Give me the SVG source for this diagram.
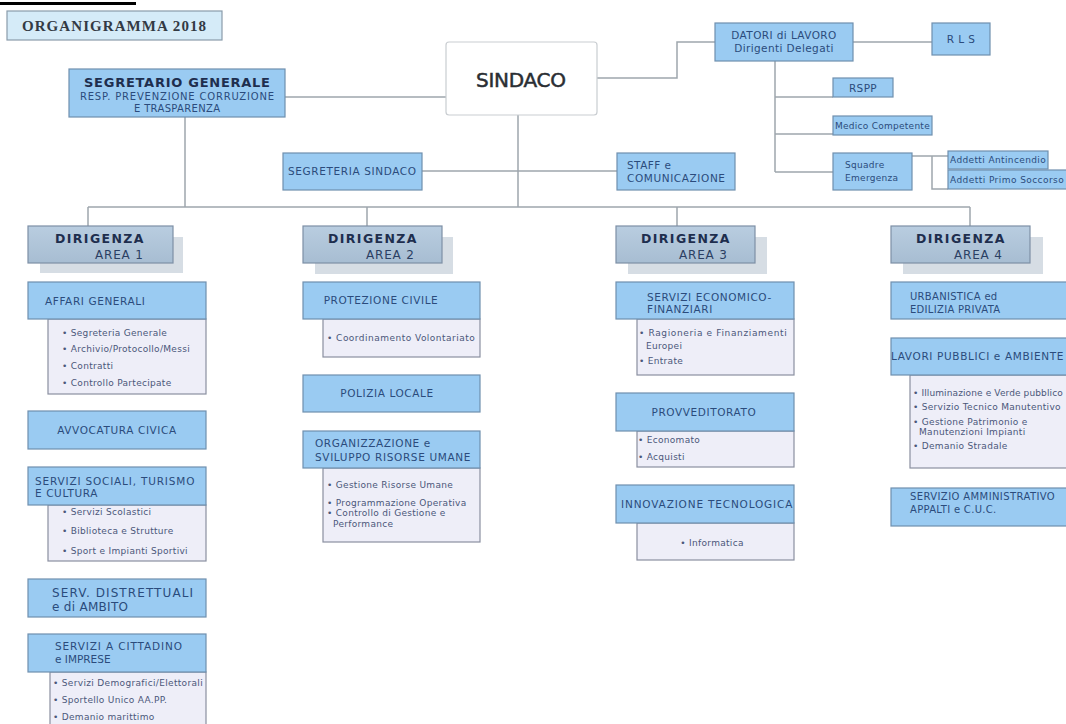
<svg xmlns="http://www.w3.org/2000/svg" width="1066" height="724" viewBox="0 0 1066 724">
<defs>
<linearGradient id="gDir" x1="0" y1="0" x2="0" y2="1">
<stop offset="0" stop-color="#b9cde0"/>
<stop offset="1" stop-color="#a7bdd2"/>
</linearGradient>
</defs>
<style>
.hdr{fill:#9acbf2;stroke:#6f8fae;stroke-width:1.2}
.sub{fill:#eeeef8;stroke:#8a8fa0;stroke-width:1.2}
.dir{fill:url(#gDir);stroke:#7d8fa6;stroke-width:1.2}
.shd{fill:#d6dde4}
.ht{font-family:"DejaVu Sans",sans-serif;font-size:10.5px;letter-spacing:0.6px;fill:#2b4b7c}
.htc{font-family:"DejaVu Sans",sans-serif;font-size:10.5px;letter-spacing:0.6px;fill:#2b4b7c;text-anchor:middle}
.h4{font-family:"DejaVu Sans",sans-serif;font-size:10px;letter-spacing:0.3px;fill:#2b4b7c}
.it{font-family:"DejaVu Sans",sans-serif;font-size:9px;letter-spacing:0.3px;fill:#4b577a}
.st{font-family:"DejaVu Sans",sans-serif;font-size:9px;letter-spacing:0.3px;fill:#2b4b7c}
.stc{font-family:"DejaVu Sans",sans-serif;font-size:10.5px;letter-spacing:0.4px;fill:#2b4b7c;text-anchor:middle}
.d1{font-family:"DejaVu Sans",sans-serif;font-size:12.5px;font-weight:bold;letter-spacing:1.4px;fill:#1e2e4e}
.d2{font-family:"DejaVu Sans",sans-serif;font-size:12px;letter-spacing:0.8px;fill:#2b3f63}
.conn{stroke:#9ea6ad;stroke-width:1.5;fill:none}
</style>
<rect width="1066" height="724" fill="#ffffff"/>
<rect x="0" y="2" width="136" height="3" fill="#000000"/>

<g id="connectors">
<path class="conn" d="M285,97 H446"/>
<path class="conn" d="M185,117 V207"/>
<path class="conn" d="M597,78 H677 V42 H715"/>
<path class="conn" d="M853,42 H932"/>
<path class="conn" d="M775,61 V172"/>
<path class="conn" d="M775,97 H833"/>
<path class="conn" d="M775,134 H833"/>
<path class="conn" d="M775,172 H833"/>
<path class="conn" d="M912,156 H948"/>
<path class="conn" d="M932,156 V189 H948"/>
<path class="conn" d="M518,115 V207"/>
<path class="conn" d="M422,171 H617"/>
<path class="conn" d="M88,207 H970"/>
<path class="conn" d="M88,207 V226"/>
<path class="conn" d="M367,207 V226"/>
<path class="conn" d="M677,207 V226"/>
<path class="conn" d="M970,207 V226"/>
</g>

<g id="title">
<rect x="7" y="11" width="215" height="29" fill="#d5ebf8" stroke="#8a9cab" stroke-width="1.2"/>
<text x="114" y="31" text-anchor="middle" font-family="Liberation Serif,serif" font-size="15" font-weight="bold" fill="#333a44" textLength="184">ORGANIGRAMMA 2018</text>
</g>

<g id="segretario">
<rect class="hdr" x="69" y="69" width="216" height="48"/>
<text x="177" y="87" text-anchor="middle" font-family="DejaVu Sans,sans-serif" font-size="13" font-weight="bold" fill="#1e2e4e" textLength="186">SEGRETARIO GENERALE</text>
<text x="177" y="100" text-anchor="middle" font-family="DejaVu Sans,sans-serif" font-size="10" fill="#2b4b7c" textLength="194">RESP. PREVENZIONE CORRUZIONE</text>
<text x="177" y="112" text-anchor="middle" font-family="DejaVu Sans,sans-serif" font-size="10" fill="#2b4b7c" textLength="86">E TRASPARENZA</text>
</g>

<g id="sindaco">
<rect x="446" y="42" width="151" height="73" rx="3" fill="#ffffff" stroke="#c9cdd1" stroke-width="1.2"/>
<text x="521" y="87" text-anchor="middle" font-family="DejaVu Sans,sans-serif" font-size="20" fill="#2a2e33" stroke="#2a2e33" stroke-width="0.5" textLength="90">SINDACO</text>
</g>

<g id="datori">
<rect class="hdr" x="715" y="23" width="138" height="38"/>
<text x="784" y="39" class="stc">DATORI di LAVORO</text>
<text x="784" y="52" class="stc">Dirigenti Delegati</text>
</g>
<g id="rls">
<rect class="hdr" x="932" y="23" width="58" height="32"/>
<text x="961" y="43" class="stc" font-size="11px" letter-spacing="1px">R L S</text>
</g>
<g id="rspp">
<rect class="hdr" x="833" y="78" width="60" height="19"/>
<text x="863" y="92" class="stc" font-size="11px">RSPP</text>
</g>
<g id="medico">
<rect class="hdr" x="833" y="116" width="99" height="19"/>
<text x="835" y="129" class="st" textLength="95">Medico Competente</text>
</g>
<g id="squadre">
<rect class="hdr" x="833" y="153" width="79" height="37"/>
<text x="845" y="168" class="st">Squadre</text>
<text x="845" y="181" class="st">Emergenza</text>
</g>
<g id="antincendio">
<rect class="hdr" x="948" y="151" width="100" height="18"/>
<text x="950" y="163" class="st" textLength="96">Addetti Antincendio</text>
</g>
<g id="soccorso">
<rect class="hdr" x="948" y="170" width="122" height="19"/>
<text x="950" y="183" class="st" textLength="114">Addetti Primo Soccorso</text>
</g>

<g id="segreteria-sindaco">
<rect class="hdr" x="283" y="153" width="139" height="37"/>
<text x="288" y="175" font-family="DejaVu Sans,sans-serif" font-size="10.5" fill="#2b4b7c" textLength="128">SEGRETERIA SINDACO</text>
</g>
<g id="staff">
<rect class="hdr" x="617" y="153" width="118" height="37"/>
<text x="627" y="169" font-family="DejaVu Sans,sans-serif" font-size="10.5" fill="#2b4b7c" textLength="44">STAFF e</text>
<text x="627" y="182" font-family="DejaVu Sans,sans-serif" font-size="10.5" fill="#2b4b7c" textLength="98">COMUNICAZIONE</text>
</g>

<!-- DIRIGENZA boxes -->
<g id="dir1">
<rect class="shd" x="40" y="237" width="143" height="36"/>
<rect class="dir" x="28" y="226" width="145" height="37"/>
<text x="55" y="243" class="d1">DIRIGENZA</text>
<text x="95" y="259" class="d2">AREA 1</text>
</g>
<g id="dir2">
<rect class="shd" x="315" y="237" width="138" height="37"/>
<rect class="dir" x="303" y="226" width="139" height="37"/>
<text x="328" y="243" class="d1">DIRIGENZA</text>
<text x="366" y="259" class="d2">AREA 2</text>
</g>
<g id="dir3">
<rect class="shd" x="628" y="237" width="139" height="37"/>
<rect class="dir" x="616" y="226" width="139" height="37"/>
<text x="641" y="243" class="d1">DIRIGENZA</text>
<text x="679" y="259" class="d2">AREA 3</text>
</g>
<g id="dir4">
<rect class="shd" x="903" y="237" width="140" height="37"/>
<rect class="dir" x="891" y="226" width="139" height="37"/>
<text x="916" y="243" class="d1">DIRIGENZA</text>
<text x="954" y="259" class="d2">AREA 4</text>
</g>

<!-- AREA 1 -->
<g id="affari-generali">
<rect class="sub" x="48" y="319" width="158" height="75"/>
<rect class="hdr" x="28" y="282" width="178" height="37"/>
<text x="45" y="305" class="ht">AFFARI GENERALI</text>
<text x="62" y="336" class="it">• Segreteria Generale</text>
<text x="62" y="352" class="it">• Archivio/Protocollo/Messi</text>
<text x="62" y="369" class="it">• Contratti</text>
<text x="62" y="386" class="it">• Controllo Partecipate</text>
</g>
<g id="avvocatura">
<rect class="hdr" x="28" y="411" width="178" height="38"/>
<text x="117" y="434" class="htc">AVVOCATURA CIVICA</text>
</g>
<g id="servizi-sociali">
<rect class="sub" x="48" y="505" width="158" height="56"/>
<rect class="hdr" x="28" y="467" width="178" height="38"/>
<text x="35" y="485" class="ht" textLength="160">SERVIZI SOCIALI, TURISMO</text>
<text x="35" y="497" class="ht">E CULTURA</text>
<text x="62" y="515" class="it">• Servizi Scolastici</text>
<text x="62" y="534" class="it">• Biblioteca e Strutture</text>
<text x="62" y="554" class="it">• Sport e Impianti Sportivi</text>
</g>
<g id="serv-distrettuali">
<rect class="hdr" x="28" y="579" width="178" height="38"/>
<text x="52" y="597" font-family="DejaVu Sans,sans-serif" font-size="12" fill="#2b4b7c" textLength="141">SERV. DISTRETTUALI</text>
<text x="52" y="611" font-family="DejaVu Sans,sans-serif" font-size="12" fill="#2b4b7c" textLength="76">e di AMBITO</text>
</g>
<g id="servizi-cittadino">
<rect class="sub" x="50" y="672" width="156" height="60"/>
<rect class="hdr" x="28" y="634" width="178" height="38"/>
<text x="55" y="650" font-family="DejaVu Sans,sans-serif" font-size="10.5" fill="#2b4b7c" textLength="127">SERVIZI A CITTADINO</text>
<text x="55" y="663" font-family="DejaVu Sans,sans-serif" font-size="10.5" fill="#2b4b7c">e IMPRESE</text>
<text x="53" y="686" class="it" textLength="150">• Servizi Demografici/Elettorali</text>
<text x="53" y="703" class="it">• Sportello Unico AA.PP.</text>
<text x="53" y="720" class="it">• Demanio marittimo</text>
</g>

<!-- AREA 2 -->
<g id="protezione-civile">
<rect class="sub" x="323" y="319" width="157" height="38"/>
<rect class="hdr" x="303" y="282" width="177" height="37"/>
<text x="381" y="304" class="htc">PROTEZIONE CIVILE</text>
<text x="327" y="341" class="it" textLength="148">• Coordinamento Volontariato</text>
</g>
<g id="polizia-locale">
<rect class="hdr" x="303" y="375" width="177" height="37"/>
<text x="387" y="397" class="htc">POLIZIA LOCALE</text>
</g>
<g id="organizzazione">
<rect class="sub" x="323" y="468" width="157" height="74"/>
<rect class="hdr" x="303" y="431" width="177" height="37"/>
<text x="315" y="447" class="ht">ORGANIZZAZIONE e</text>
<text x="315" y="461" class="ht" textLength="156">SVILUPPO RISORSE UMANE</text>
<text x="327" y="488" class="it">• Gestione Risorse Umane</text>
<text x="327" y="506" class="it">• Programmazione Operativa</text>
<text x="327" y="516" class="it">• Controllo di Gestione e</text>
<text x="333" y="527" class="it">Performance</text>
</g>

<!-- AREA 3 -->
<g id="economico-finanziari">
<rect class="sub" x="637" y="319" width="157" height="56"/>
<rect class="hdr" x="616" y="282" width="178" height="37"/>
<text x="647" y="301" class="ht">SERVIZI ECONOMICO-</text>
<text x="647" y="313" class="ht">FINANZIARI</text>
<text x="639" y="336" class="it" textLength="148">• Ragioneria e Finanziamenti</text>
<text x="646" y="349" class="it">Europei</text>
<text x="639" y="364" class="it">• Entrate</text>
</g>
<g id="provveditorato">
<rect class="sub" x="637" y="431" width="157" height="36"/>
<rect class="hdr" x="616" y="393" width="178" height="38"/>
<text x="704" y="416" class="htc">PROVVEDITORATO</text>
<text x="638" y="443" class="it">• Economato</text>
<text x="638" y="460" class="it">• Acquisti</text>
</g>
<g id="innovazione">
<rect class="sub" x="637" y="523" width="157" height="37"/>
<rect class="hdr" x="616" y="485" width="178" height="38"/>
<text x="621" y="508" class="ht" textLength="172">INNOVAZIONE TECNOLOGICA</text>
<text x="712" y="546" class="it" text-anchor="middle">• Informatica</text>
</g>

<!-- AREA 4 -->
<g id="urbanistica">
<rect class="hdr" x="891" y="282" width="180" height="37"/>
<text x="910" y="300" class="h4">URBANISTICA ed</text>
<text x="910" y="313" class="h4">EDILIZIA PRIVATA</text>
</g>
<g id="lavori-pubblici">
<rect class="sub" x="910" y="375" width="160" height="93"/>
<rect class="hdr" x="891" y="338" width="180" height="37"/>
<text x="891" y="360" class="ht" textLength="173">LAVORI PUBBLICI e AMBIENTE</text>
<text x="913" y="396" class="it" textLength="150">• Illuminazione e Verde pubblico</text>
<text x="913" y="410" class="it">• Servizio Tecnico Manutentivo</text>
<text x="913" y="425" class="it">• Gestione Patrimonio e</text>
<text x="919" y="435" class="it">Manutenzioni Impianti</text>
<text x="913" y="449" class="it">• Demanio Stradale</text>
</g>
<g id="servizio-amministrativo">
<rect class="hdr" x="891" y="488" width="180" height="38"/>
<text x="910" y="500" class="h4" textLength="145">SERVIZIO AMMINISTRATIVO</text>
<text x="910" y="513" class="h4">APPALTI e C.U.C.</text>
</g>
</svg>
